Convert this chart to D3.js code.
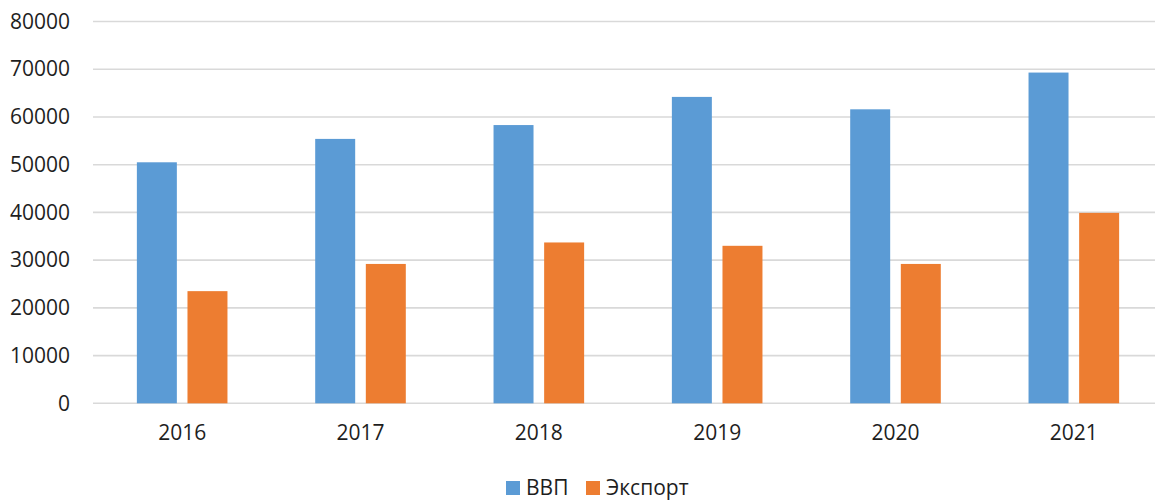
<!DOCTYPE html>
<html>
<head>
<meta charset="utf-8">
<script src="https://cdn.jsdelivr.net/npm/d3@7"></script>
<style>
  html, body { margin: 0; padding: 0; background: #fff; overflow: hidden; }
  #chart svg { display: block; font-family: "Open Sans", sans-serif; }
</style>
</head>
<body>
<div id="chart"></div>
<script>
// Data
const years = ["2016", "2017", "2018", "2019", "2020", "2021"];
const seriesNames = ["ВВП", "Экспорт"];
const gdp = [50500, 55400, 58300, 64200, 61600, 69300];
const exports = [23500, 29200, 33700, 33000, 29200, 39900];
const yTicks = [0, 10000, 20000, 30000, 40000, 50000, 60000, 70000, 80000];
const colors = ["#5B9BD5", "#ED7D31"];

const W = 1155, H = 501;
const plot = { left: 93, right: 1163, top: 21.5, bottom: 403.3 };

const svg = d3.select("#chart")
  .append("svg")
  .attr("width", W)
  .attr("height", H);

const data = years.map((yr, i) => ({ year: yr, values: [gdp[i], exports[i]] }));

// Scales
const x = d3.scaleBand()
  .domain(years)
  .range([plot.left, plot.right])
  .padding(0);

const groupW = 90.6;
const x1 = d3.scaleBand()
  .domain(d3.range(seriesNames.length))
  .range([x.bandwidth() / 2 - groupW / 2, x.bandwidth() / 2 + groupW / 2])
  .paddingInner(0.21)
  .paddingOuter(0);

const y = d3.scaleLinear()
  .domain([0, 80000])
  .range([plot.bottom, plot.top]);

// Gridlines
svg.append("g")
  .selectAll("line")
  .data(yTicks)
  .enter()
  .append("line")
  .attr("x1", plot.left)
  .attr("x2", W)
  .attr("y1", d => y(d))
  .attr("y2", d => y(d))
  .style("stroke", "#d9d9d9")
  .style("stroke-width", 1.6);

// Y axis labels
const yAxis = svg.append("g")
  .attr("transform", `translate(${plot.left},0)`)
  .call(d3.axisLeft(y).tickValues(yTicks).tickSize(0).tickPadding(23).tickFormat(d3.format("d")));
yAxis.select(".domain").remove();
yAxis.selectAll("text")
  .style("font-family", "'Open Sans', sans-serif")
  .style("font-size", "21px")
  .style("fill", "#1e1e1e");

// Bars
const groups = svg.selectAll(".year")
  .data(data)
  .enter()
  .append("g")
  .attr("class", "year")
  .attr("transform", d => `translate(${x(d.year)},0)`);

groups.selectAll("rect")
  .data(d => d.values.map((v, i) => ({ v, i })))
  .enter()
  .append("rect")
  .attr("x", d => x1(d.i))
  .attr("width", x1.bandwidth())
  .attr("y", d => y(d.v))
  .attr("height", d => y(0) - y(d.v))
  .attr("fill", d => colors[d.i]);

// X axis labels
const xAxis = svg.append("g")
  .attr("transform", `translate(0,${plot.bottom})`)
  .call(d3.axisBottom(x).tickSize(0).tickPadding(22));
xAxis.select(".domain").remove();
xAxis.selectAll("text")
  .style("font-family", "'Open Sans', sans-serif")
  .style("font-size", "21px")
  .style("fill", "#1e1e1e");

// Legend
const legendX = [506, 586];
const legend = svg.append("g");
seriesNames.forEach((name, i) => {
  legend.append("rect")
    .attr("x", legendX[i])
    .attr("y", 481)
    .attr("width", 14)
    .attr("height", 14)
    .attr("fill", colors[i]);
  legend.append("text")
    .attr("x", legendX[i] + 20)
    .attr("y", 495)
    .style("font-size", "21px")
    .style("fill", "#1e1e1e")
    .text(name);
});
</script>
</body>
</html>
